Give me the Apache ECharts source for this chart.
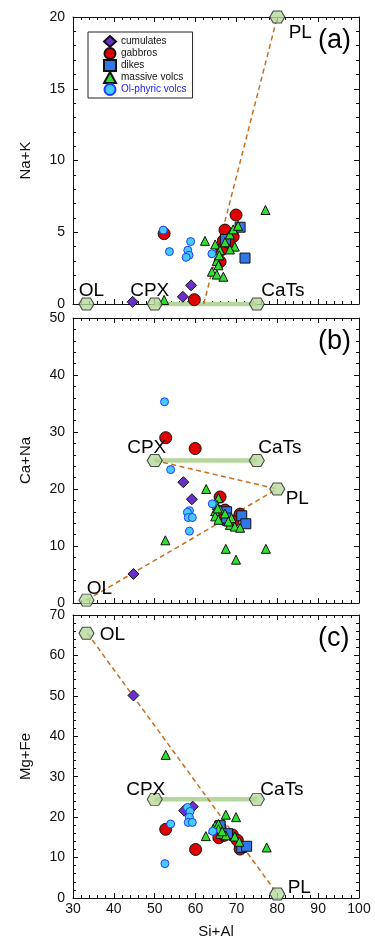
<!DOCTYPE html>
<html><head><meta charset="utf-8">
<script src="https://cdn.jsdelivr.net/npm/echarts@6/dist/echarts.min.js"></script>
<style>html,body{margin:0;padding:0;background:#fff}#c{width:375px;height:940px}</style>
</head><body><div id="c"></div>
<script>
// ---------- data ----------
const xTickValues = [30, 40, 50, 60, 70, 80, 90, 100];
const panelNames = ['Na+K', 'Ca+Na', 'Mg+Fe'];
const panelTags = ['(a)', '(b)', '(c)'];
const yMax = [20, 50, 70];
const yStep = [5, 10, 10];

const categories = ['cumulates', 'gabbros', 'dikes', 'massive volcs', 'Ol-phyric volcs'];

// Panel (a): Na+K vs Si+Al
const cumulatesA = [[44.6,0.15],[56.9,0.5],[58.9,1.3]];
const gabbrosA = [[52.3,4.9],[59.7,0.3],[69.9,6.2],[67.2,5.15],[69.2,4.7],[66.8,4.4],[66.4,3.8],[66.0,2.95],[68.0,4.3]];
const dikesA = [[70.9,5.35],[72.1,3.2],[67.3,4.5]];
const massiveA = [[52.3,0.28],[62.3,4.4],[77.1,6.55],[64.8,4.15],[67.2,4.3],[68.4,4.85],[69.2,5.2],[70.4,5.45],[69.6,4.0],[68.4,3.8],[66.0,3.75],[65.2,3.0],[65.6,2.7],[64.0,2.25],[65.2,2.05],[66.8,1.9],[65.8,3.4]];
const olphyricA = [[52.1,5.15],[53.6,3.65],[58.8,4.35],[58.1,3.75],[58.4,3.4],[57.7,3.25],[64.0,3.5]];

// Panel (b): Ca+Na vs Si+Al
const cumulatesB = [[44.8,5.1],[57.0,21.2],[59.1,18.2]];
const gabbrosB = [[52.7,29.0],[59.9,27.1],[66.0,18.6],[67.2,16.3],[70.9,15.6],[67.2,14.6],[69.2,14.3],[66.5,15.5]];
const dikesB = [[67.6,16.0],[67.6,14.9],[71.3,15.3],[72.3,13.9]];
const massiveB = [[52.6,11.0],[62.6,20.0],[67.4,9.5],[69.9,7.6],[77.2,9.5],[65.6,18.4],[65.2,17.2],[66.0,16.4],[64.8,16.1],[67.2,15.7],[64.8,15.2],[65.6,14.6],[68.8,14.9],[68.4,13.7],[69.6,13.4],[70.9,13.2],[68.0,14.3],[65.4,16.6]];
const olphyricB = [[52.4,35.3],[53.9,23.4],[64.1,17.4],[58.5,16.2],[58.0,15.9],[58.2,15.0],[59.2,15.0],[58.5,12.6]];

// Panel (c): Mg+Fe vs Si+Al
const cumulatesC = [[44.8,50.1],[57.2,21.6],[59.3,22.6]];
const gabbrosC = [[52.7,17.0],[60.0,12.0],[66.0,17.5],[65.7,14.9],[67.0,15.5],[69.0,15.6],[70.2,14.3],[70.9,12.1]];
const dikesC = [[66.0,17.9],[67.8,15.9],[71.3,12.5],[72.5,12.8]];
const massiveC = [[52.7,35.4],[67.4,20.6],[69.9,20.0],[77.4,12.5],[62.5,15.3],[64.8,17.9],[65.6,18.3],[66.0,15.9],[67.4,15.5],[69.6,15.2],[70.7,13.9],[65.6,17.0],[64.3,17.1],[66.5,16.5]];
const olphyricC = [[52.5,8.5],[53.9,18.3],[58.0,22.4],[58.65,21.4],[58.5,20.0],[58.2,18.7],[59.2,18.7],[64.2,16.5]];

// End members (mineral compositions)
const emNames = ['OL', 'CPX', 'CaTs', 'PL'];
const emX = [33.3, 50, 75, 80];
const emA = [0, 0, 0, 20];
const emB = [0.5, 25, 25, 20];
const emC = [65.5, 24.4, 24.4, 1];

// Tie lines (dashed) per panel
const tieA = [[[62, 0], [80, 20]]];
const tieB = [[[50, 25], [80, 20]], [[33.3, 0.5], [80, 20]]];
const tieC = [[[33.5, 65.5], [80, 1]]];

// ---------- style ----------
const FONT = "'Liberation Sans', Arial, sans-serif";
const grids = [
  {left: 73, top: 17, width: 286, height: 287},
  {left: 73, top: 318, width: 286, height: 285},
  {left: 73, top: 615, width: 286, height: 286}
];
const emLabelOffsets = [
  [[5,-13],[-5,-13],[26,-13],[23,16]],
  [[13,-11],[-8,-13],[23,-13],[20,10]],
  [[26,2],[-9,-10],[25,-10],[22,-6]]
];
const catStyle = [
  {symbol: 'diamond', size: 11, color: '#6a2fc8', border: '#111'},
  {symbol: 'circle', size: 12, color: '#e00000', border: '#111'},
  {symbol: 'rect', size: 10, color: '#2f78e8', border: '#111'},
  {symbol: 'triangle', size: 9, color: '#2ee02e', border: '#111'},
  {symbol: 'circle', size: 8, color: '#44ccff', border: '#1f3cff'}
];
const hexPath = 'path://M0,6L3.5,0L11.5,0L15,6L11.5,12L3.5,12Z';

const panelData = [
  [cumulatesA, gabbrosA, dikesA, massiveA, olphyricA],
  [cumulatesB, gabbrosB, dikesB, massiveB, olphyricB],
  [cumulatesC, gabbrosC, dikesC, massiveC, olphyricC]
];
const panelEm = [emA, emB, emC];
const panelTies = [tieA, tieB, tieC];

const xAxes = [], yAxes = [], series = [];
const tickCommon = {show: true, inside: true, length: 5, lineStyle: {color: '#111', width: 1}};
const minorCommon = {show: true, splitNumber: 5, length: 3, lineStyle: {color: '#111', width: 1}};

for (let p = 0; p < 3; p++) {
  ['bottom', 'top'].forEach((pos, k) => {
    xAxes.push({
      type: 'value', gridIndex: p, position: pos, min: xTickValues[0], max: xTickValues[xTickValues.length-1], interval: 10,
      axisLine: {show: true, onZero: false, lineStyle: {color: '#111', width: 1}},
      axisTick: tickCommon, minorTick: minorCommon, splitLine: {show: false},
      axisLabel: {show: p === 2 && k === 0, color: '#111', fontFamily: FONT, fontSize: 14, margin: 4},
      name: (p === 2 && k === 0) ? 'Si+Al' : '', nameLocation: 'middle', nameGap: 26,
      nameTextStyle: {color: '#111', fontFamily: FONT, fontSize: 15}
    });
  });
  ['left', 'right'].forEach((pos, k) => {
    yAxes.push({
      type: 'value', gridIndex: p, position: pos, min: 0, max: yMax[p], interval: yStep[p],
      axisLine: {show: true, onZero: false, lineStyle: {color: '#111', width: 1}},
      axisTick: tickCommon, minorTick: minorCommon, splitLine: {show: false},
      axisLabel: {show: k === 0, color: '#111', fontFamily: FONT, fontSize: 14, margin: 8, showMinLabel: true, showMaxLabel: true},
      name: k === 0 ? panelNames[p] : '', nameLocation: 'middle', nameGap: 40,
      nameTextStyle: {color: '#111', fontFamily: FONT, fontSize: 15}
    });
  });
  const xi = 2 * p, yi = 2 * p;
  const em = panelEm[p];
  // CPX - CaTs join
  series.push({
    type: 'line', xAxisIndex: xi, yAxisIndex: yi, silent: true, clip: false, symbol: 'none', z: 2,
    lineStyle: {color: '#b5d79d', width: 4.5},
    data: [[emX[1], em[1]], [emX[2], em[2]]]
  });
  // dashed tie lines
  panelTies[p].forEach(seg => {
    series.push({
      type: 'line', xAxisIndex: xi, yAxisIndex: yi, silent: true, clip: false, symbol: 'none', z: 3,
      lineStyle: {color: '#c8701e', width: 1.5, type: [5, 3.5]},
      data: seg
    });
  });
  // samples
  categories.forEach((name, c) => {
    const st = catStyle[c];
    series.push({
      type: 'scatter', name: name, xAxisIndex: xi, yAxisIndex: yi, clip: false, z: 5 + c,
      symbol: st.symbol, symbolSize: st.size,
      itemStyle: {color: st.color, borderColor: st.border, borderWidth: 1, opacity: 1},
      data: panelData[p][c]
    });
  });
  // end members
  series.push({
    type: 'scatter', xAxisIndex: xi, yAxisIndex: yi, clip: false, z: 20, silent: true,
    symbol: hexPath, symbolSize: [15, 12],
    itemStyle: {color: '#b7d89e', borderColor: '#222', borderWidth: 1},
    label: {show: true, position: 'inside', formatter: '{b}', color: '#000', fontFamily: FONT, fontSize: 19,
      align: 'center', verticalAlign: 'middle', textBorderWidth: 0, textBorderColor: 'transparent', opacity: 1},
    data: emNames.map((n, i) => ({name: n, value: [emX[i], em[i]], label: {offset: emLabelOffsets[p][i]}}))
  });
}

const graphics = panelTags.map((t, p) => ({
  type: 'text', left: 318, top: grids[p].top + 10, z: 50,
  style: {text: t, fontFamily: FONT, fontSize: 27, fill: '#000'}
}));

const option = {
  animation: false,
  backgroundColor: '#fff',
  grid: grids,
  xAxis: xAxes,
  yAxis: yAxes,
  legend: {
    left: 88, top: 32, orient: 'vertical', itemGap: -1, itemWidth: 12, itemHeight: 11,
    padding: [3, 6, 2, 15],
    borderColor: '#222', borderWidth: 1, backgroundColor: '#fff',
    textStyle: {fontFamily: FONT, fontSize: 10, lineHeight: 11, color: '#111'},
    data: categories.map((n, i) => i === 4 ? {name: n, textStyle: {color: '#1a1aff'}} : {name: n})
  },
  graphic: graphics,
  series: series
};

const chart = echarts.init(document.getElementById('c'), null, {renderer: 'canvas'});
chart.setOption(option);
</script></body></html>
